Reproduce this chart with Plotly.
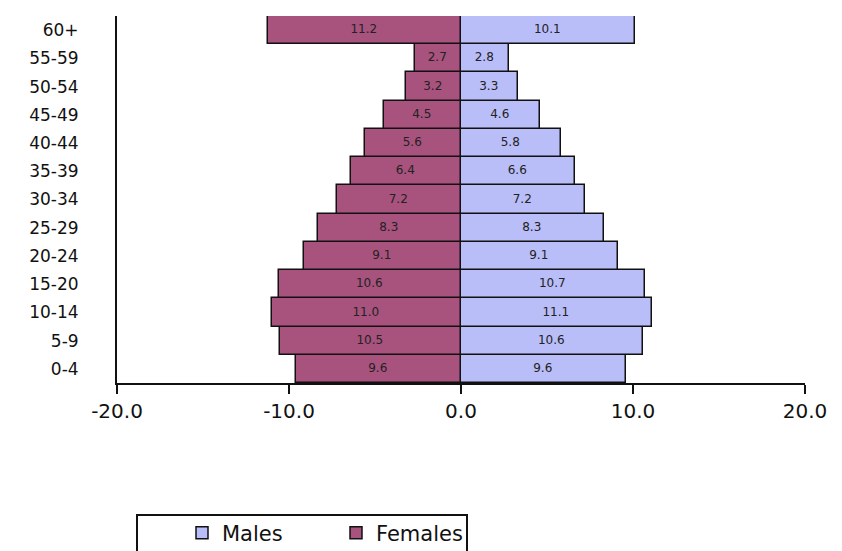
import plotly.graph_objects as go

age_groups = ["0-4", "5-9", "10-14", "15-20", "20-24", "25-29", "30-34",
              "35-39", "40-44", "45-49", "50-54", "55-59", "60+"]
males = [9.6, 10.6, 11.1, 10.7, 9.1, 8.3, 7.2, 6.6, 5.8, 4.6, 3.3, 2.8, 10.1]
females = [9.6, 10.5, 11.0, 10.6, 9.1, 8.3, 7.2, 6.4, 5.6, 4.5, 3.2, 2.7, 11.2]
x_ticks = [-20, -10, 0, 10, 20]
x_tick_labels = ["-20.0", "-10.0", "0.0", "10.0", "20.0"]

FONT = "DejaVu Sans"
OFF = 8  # page body margin
W, H = 842 - OFF, 551 - OFF
L, R, T = 117 - OFF, 37, 16 - OFF
B = H - (383 - OFF)
PW, PH = W - L - R, H - T - B


def px_x(px):
    return (px - OFF - L) / PW


def px_y(py):
    return (H - B - (py - OFF)) / PH


def cont_x(px):
    return (px - OFF) / W


def cont_y(py):
    return (H - (py - OFF)) / H


fig = go.Figure()
fig.add_trace(go.Bar(
    y=age_groups, x=males, orientation="h", name="Males",
    marker=dict(color="#B9BDF8", line=dict(color="#111111", width=1.5)),
    text=[f"{v:.1f}" for v in males], textposition="inside",
    insidetextanchor="middle", textangle=0,
    textfont=dict(size=12, color="#222222", family=FONT),
))
fig.add_trace(go.Bar(
    y=age_groups, x=[-v for v in females], orientation="h", name="Females",
    marker=dict(color="#A8527E", line=dict(color="#111111", width=1.5)),
    text=[f"{v:.1f}" for v in females], textposition="inside",
    insidetextanchor="middle", textangle=0,
    textfont=dict(size=12, color="#222222", family=FONT),
))

fig.update_layout(
    width=W, height=H,
    barmode="relative", bargap=0,
    plot_bgcolor="white", paper_bgcolor="white",
    margin=dict(l=L, r=R, t=T, b=B),
    font=dict(family=FONT, color="#111111"),
    xaxis=dict(
        range=[-20, 20], tickvals=x_ticks, ticktext=x_tick_labels,
        showline=True, linecolor="#111111", linewidth=2,
        ticks="outside", ticklen=9, tickwidth=2, tickcolor="#111111",
        showgrid=False, zeroline=False, automargin=False,
        tickfont=dict(size=20, family=FONT),
    ),
    yaxis=dict(
        categoryorder="array", categoryarray=age_groups,
        showline=True, linecolor="#111111", linewidth=2,
        showgrid=False, zeroline=False, ticks="", automargin=False,
        ticklabelstandoff=33,
        tickfont=dict(size=17, family=FONT),
    ),
    legend=dict(
        orientation="h", xref="container", yref="container",
        x=cont_x(182), y=cont_y(533), xanchor="left", yanchor="middle",
        borderwidth=0, bgcolor="rgba(0,0,0,0)",
        font=dict(size=21, family=FONT),
        traceorder="normal", entrywidth=109, entrywidthmode="pixels",
        itemwidth=30,
    ),
    showlegend=True,
    shapes=[dict(
        type="rect", xref="paper", yref="paper",
        x0=px_x(137), x1=px_x(467), y0=px_y(515), y1=px_y(570),
        line=dict(color="#111111", width=2), fillcolor="white", layer="below",
    )],
)

fig.write_html("out.html")
